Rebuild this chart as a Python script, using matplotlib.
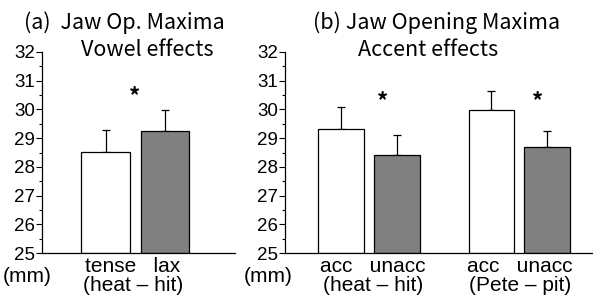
import numpy as np
import matplotlib
matplotlib.use("Agg")
import matplotlib.pyplot as plt
from matplotlib.ticker import MultipleLocator

# --- data ---
vowel_labels = ["tense", "lax"]
vowel_means = [28.52, 29.25]
vowel_err = [0.77, 0.73]

accent_labels = ["acc", "unacc", "acc", "unacc"]
accent_means = [29.32, 28.41, 29.98, 28.69]
accent_err = [0.77, 0.69, 0.66, 0.56]

pair_labels_a = ["(heat \u2013 hit)"]
pair_labels_b = ["(heat \u2013 hit)", "(Pete \u2013 pit)"]
y_ticks = [25, 26, 27, 28, 29, 30, 31, 32]

bar_colors = ["white", "#808080"]
W, H = 593, 297
fs = 13.5
tfs = 15
tfont = ["Noto Sans CJK KR", "DejaVu Sans"]
nfont = "Liberation Sans"

fig = plt.figure(figsize=(W / 100, H / 100), dpi=100)


def style_axis(ax):
    ax.set_ylim(25, 32)
    ax.set_yticks(y_ticks)
    ax.yaxis.set_minor_locator(MultipleLocator(0.5))
    ax.tick_params(axis="y", which="major", length=4, width=0.8,
                   labelsize=fs, pad=1)
    ax.tick_params(axis="y", which="minor", length=2, width=0.8)
    for lab in ax.get_yticklabels():
        lab.set_fontfamily(nfont)
    ax.set_xticks([])
    ax.spines["top"].set_visible(False)
    ax.spines["right"].set_visible(False)
    ax.spines["left"].set_linewidth(0.9)
    ax.spines["bottom"].set_linewidth(0.9)
    ax.patch.set_visible(False)


def draw_bars(ax, pos, means, errs, colors):
    ax.bar(pos, np.array(means) - 25, bottom=25, width=0.81,
           color=colors, edgecolor="black", linewidth=0.9, zorder=2)
    ax.errorbar(pos, means, yerr=[np.zeros(len(errs)), errs], fmt="none",
                ecolor="black", elinewidth=0.9, capsize=3, capthick=0.9,
                zorder=1)


# panel (a)
ax1 = fig.add_axes([42 / W, 44 / H, 193 / W, 201 / H])
pos_a = np.array([0, 1.0])
draw_bars(ax1, pos_a, vowel_means, vowel_err, bar_colors)
ax1.set_xlim(-1.07, 2.18)
style_axis(ax1)

# panel (b)
ax2 = fig.add_axes([285 / W, 44 / H, 308 / W, 201 / H])
pos_b = np.array([0, 1.0, 2.67, 3.66])
draw_bars(ax2, pos_b, accent_means, accent_err, bar_colors * 2)
ax2.set_xlim(-0.99, 4.47)
style_axis(ax2)


# text placed in figure pixels
def ftext(x, y, s, size=tfs, family=tfont, **kw):
    fig.text(x / W, 1 - y / H, s, ha="center", va="center",
             fontsize=size, family=family, **kw)


# two-line category labels under each pair of bars
lab_kw = dict(size=15, family=nfont, linespacing=0.95, multialignment="center")
ftext(133, 276, "   ".join(vowel_labels) + "\n" + pair_labels_a[0], **lab_kw)
ftext(373, 276, "   ".join(accent_labels[:2]) + "\n" + pair_labels_b[0], **lab_kw)
ftext(520, 276, "   ".join(accent_labels[2:]) + "\n" + pair_labels_b[1], **lab_kw)
ftext(27, 277, "(mm)", size=15, family=nfont)
ftext(268, 277, "(mm)", size=15, family=nfont)

# titles
ftext(124, 23, "(a)  Jaw Op. Maxima", size=15.5)
ftext(147, 50, "Vowel effects", size=15.5)
ftext(437, 23, "(b) Jaw Opening Maxima", size=15.5)
ftext(428, 50, "Accent effects", size=15.5)

# significance stars
ftext(135, 97, "*", size=16, fontweight="bold")
ftext(383, 102, "*", size=16, fontweight="bold")
ftext(538, 102, "*", size=16, fontweight="bold")

fig.savefig("out.png", dpi=100)
